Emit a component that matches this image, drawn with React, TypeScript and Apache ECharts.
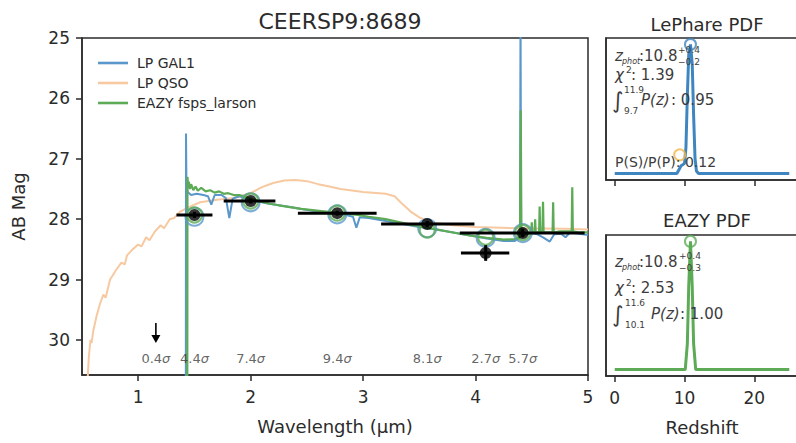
import React, { useEffect, useRef } from 'react';
import * as echarts from 'echarts';

const FONT = '"DejaVu Sans", "Liberation Sans", sans-serif';
const INK = '#2b2b2b';
const STAT_INK = '#3c3c3c';
const BLUE = '#5a97cb';
const ORANGE = '#f7c9a0';
const GREEN = '#5dab57';

const xTicks = [1, 2, 3, 4, 5];
const yTicks = [25, 26, 27, 28, 29, 30];
const zTicks = [0, 10, 20];

// LePhare galaxy template (wavelength um, AB mag)
const gal1Spectrum: number[][] = [
  [1.40, 31.5], [1.423, 31.5], [1.425, 26.58], [1.429, 27.45], [1.44, 27.55], [1.47, 27.6], [1.52, 27.58],
  [1.58, 27.6], [1.62, 27.62], [1.65, 27.76], [1.68, 27.6], [1.74, 27.6], [1.78, 27.65], [1.81, 27.98],
  [1.84, 27.66], [1.9, 27.62], [1.96, 27.66], [2.05, 27.7], [2.15, 27.74], [2.25, 27.77], [2.35, 27.8],
  [2.45, 27.83], [2.55, 27.86], [2.65, 27.88], [2.75, 27.9], [2.85, 27.93], [2.91, 27.96], [2.94, 28.14],
  [2.97, 27.97], [3.05, 27.98], [3.2, 28.03], [3.35, 28.08], [3.5, 28.13], [3.65, 28.17], [3.8, 28.22],
  [3.95, 28.27], [4.1, 28.32], [4.25, 28.36], [4.35, 28.36], [4.395, 28.3], [4.4, 24.5], [4.405, 28.25],
  [4.48, 28.23], [4.55, 28.25], [4.6, 28.3], [4.66, 28.37], [4.7, 28.25], [4.76, 28.24], [4.8, 28.3],
  [4.84, 28.22], [4.92, 28.24], [5.0, 28.26],
];

// LePhare QSO template
const qsoSpectrum: number[][] = [
  [0.54, 31], [0.56, 30.3], [0.575, 30.0], [0.585, 30.05], [0.6, 29.85], [0.63, 29.6], [0.66, 29.4],
  [0.69, 29.25], [0.71, 29.3], [0.75, 29.0], [0.8, 28.85], [0.85, 28.72], [0.88, 28.75], [0.9, 28.6],
  [0.95, 28.5], [1.0, 28.42], [1.03, 28.45], [1.07, 28.3], [1.1, 28.35], [1.15, 28.2], [1.2, 28.1],
  [1.23, 28.15], [1.28, 28.0], [1.32, 27.98], [1.37, 27.88], [1.45, 27.8], [1.55, 27.72], [1.7, 27.68],
  [1.85, 27.65], [2.0, 27.57], [2.1, 27.47], [2.2, 27.4], [2.3, 27.36], [2.4, 27.35], [2.5, 27.37],
  [2.6, 27.42], [2.7, 27.46], [2.8, 27.5], [3.0, 27.55], [3.2, 27.58], [3.28, 27.62], [3.35, 27.75],
  [3.42, 27.87], [3.5, 27.97], [3.6, 28.05], [3.8, 28.1], [4.0, 28.13], [4.4, 28.15], [4.8, 28.16], [5.0, 28.17],
];

// EAZY fsps_larson template
const eazySpectrum: number[][] = [
  [1.40, 31.5], [1.436, 31.5], [1.438, 27.3], [1.443, 27.45], [1.45, 27.38], [1.46, 27.5], [1.47, 27.42],
  [1.49, 27.52], [1.51, 27.46], [1.53, 27.53], [1.56, 27.48], [1.6, 27.54], [1.64, 27.52], [1.68, 27.56],
  [1.72, 27.54], [1.76, 27.58], [1.8, 27.57], [1.85, 27.6], [1.9, 27.6], [1.95, 27.63], [2.0, 27.66],
  [2.08, 27.7], [2.16, 27.74], [2.25, 27.77], [2.35, 27.8], [2.45, 27.83], [2.55, 27.85], [2.65, 27.87],
  [2.75, 27.89], [2.85, 27.91], [2.95, 27.93], [3.05, 27.96], [3.2, 28.0], [3.35, 28.06], [3.5, 28.12],
  [3.65, 28.17], [3.8, 28.22], [3.95, 28.27], [4.1, 28.31], [4.25, 28.34], [4.35, 28.33], [4.395, 28.3],
  [4.402, 26.2], [4.408, 28.28], [4.45, 28.25], [4.495, 28.22], [4.5, 28.05], [4.505, 28.22], [4.525, 28.22],
  [4.53, 28.0], [4.535, 28.22], [4.565, 28.22], [4.57, 27.79], [4.575, 28.22], [4.595, 28.22], [4.6, 27.71],
  [4.605, 28.22], [4.685, 28.22], [4.69, 27.72], [4.695, 28.22], [4.75, 28.2], [4.855, 28.2], [4.86, 27.47],
  [4.865, 28.2], [4.93, 28.22], [5.0, 28.22],
];

// photometry
const filterWave = [1.50, 2.00, 2.77, 3.57, 4.09, 4.42];
const filterLo = [1.34, 1.76, 2.42, 3.16, 3.87, 3.86];
const filterHi = [1.66, 2.22, 3.12, 3.99, 4.30, 4.97];
const obsMag = [27.93, 27.70, 27.90, 28.08, 28.56, 28.23];
const obsMagErr = [0.05, 0.04, 0.04, 0.05, 0.13, 0.07];
const gal1ModelMag = [27.96, 27.72, 27.92, 28.15, 28.31, 28.23];
const eazyModelMag = [27.93, 27.70, 27.90, 28.18, 28.30, 28.22];
const upperLimitWave = [1.157];
const upperLimitMag = [29.72];
const upperLimitTip = [30.05];
const snrWave = [1.157, 1.50, 2.00, 2.77, 3.57, 4.09, 4.42];
const snrLabels = ['0.4', '4.4', '7.4', '9.4', '8.1', '2.7', '5.7'];

// redshift PDFs (peak-normalised)
const lpZ = [0, 8.9, 9.2, 9.5, 9.8, 10.0, 10.2, 10.4, 10.6, 10.85, 11.1, 11.3, 11.5, 11.7, 12.0, 25];
const lpP = [0, 0, 0.03, 0.06, 0.07, 0.08, 0.2, 0.6, 0.92, 1.0, 0.85, 0.45, 0.12, 0.02, 0, 0];
const lpBest = [10.85, 1.0];
const lpQsoMark = [9.3, 0.145];
const eazyZ = [0, 10.1, 10.4, 10.6, 10.85, 11.1, 11.3, 11.6, 25];
const eazyP = [0, 0, 0.2, 0.65, 1.0, 0.65, 0.2, 0, 0];
const eazyBest = [10.85, 1.0];

// fit statistics
const lpStats = ['10.8', '+0.4', '\u22120.2', '1.39', '11.9', '9.7', '0.95', '0.12'];
const ezStats = ['10.8', '+0.4', '\u22120.3', '2.53', '11.6', '10.1', '1.00'];

const SNR_Y = 30.31;

function txt(x: number, y: number, text: string, size: number, italic = false) {
  return {
    type: 'text', x, y, silent: true, z: 100,
    style: {
      text, fontSize: size, fontFamily: FONT, fontStyle: italic ? 'italic' : 'normal', fill: STAT_INK,
      align: 'left', verticalAlign: 'middle', textAlign: 'left', textVerticalAlign: 'middle',
    },
  };
}

function axisCommon(extra: any) {
  return {
    splitLine: { show: false },
    axisLine: { show: true, onZero: false, lineStyle: { color: INK, width: 1.5 } },
    axisTick: { show: true, length: 6, lineStyle: { color: INK, width: 1.5 } },
    axisLabel: { color: INK, fontSize: 17, fontFamily: FONT },
    nameTextStyle: { color: INK, fontSize: 18, fontFamily: FONT },
    ...extra,
  };
}

export default function App() {
  const ref = useRef<HTMLDivElement>(null);
  useEffect(() => {
    if (!ref.current) return;
    const chart = echarts.init(ref.current, undefined, { renderer: 'svg' });
    const gridBase = { show: true, borderColor: INK, borderWidth: 1.5, backgroundColor: 'transparent', outerBoundsMode: 'none', containLabel: false };
    const option: any = {
      animation: false,
      backgroundColor: '#ffffff',
      title: [
        { text: 'CEERSP9:8689', left: 335, top: 5, textAlign: 'center', textStyle: { fontSize: 22, fontWeight: 'normal', fontFamily: FONT, color: INK } },
        { text: 'LePhare PDF', left: 702, top: 10, textAlign: 'center', textStyle: { fontSize: 18, fontWeight: 'normal', fontFamily: FONT, color: INK } },
        { text: 'EAZY PDF', left: 702, top: 206, textAlign: 'center', textStyle: { fontSize: 18, fontWeight: 'normal', fontFamily: FONT, color: INK } },
      ],
      legend: {
        data: [
          { name: 'LP GAL1', icon: 'rect' },
          { name: 'LP QSO', icon: 'rect' },
          { name: 'EAZY fsps_larson', icon: 'rect' },
        ],
        orient: 'vertical', left: 93, top: 50, itemGap: 4, itemWidth: 30, itemHeight: 2.6,
        textStyle: { fontSize: 14, fontFamily: FONT, color: INK, padding: [0, 0, 0, 4], lineHeight: 16 },
      },
      grid: [
        { ...gridBase, left: 82, top: 38, width: 506, height: 337 },
        { ...gridBase, left: 606, top: 38, width: 192, height: 142 },
        { ...gridBase, left: 606, top: 235, width: 192, height: 141 },
      ],
      xAxis: [
        axisCommon({ type: 'value', gridIndex: 0, min: 0.5, max: 5, name: 'Wavelength (\u00b5m)', nameLocation: 'middle', nameGap: 42,
          axisTick: { show: true, length: 6, customValues: xTicks, lineStyle: { color: INK, width: 1.5 } },
          axisLabel: { color: INK, fontSize: 17, fontFamily: FONT, margin: 13, customValues: xTicks } }),
        axisCommon({ type: 'value', gridIndex: 1, min: -1.25, max: 26.25,
          axisTick: { show: true, length: 6, customValues: zTicks, lineStyle: { color: INK, width: 1.5 } },
          axisLabel: { show: false } }),
        axisCommon({ type: 'value', gridIndex: 2, min: -1.25, max: 26.25, name: 'Redshift', nameLocation: 'middle', nameGap: 42,
          axisTick: { show: true, length: 6, customValues: zTicks, lineStyle: { color: INK, width: 1.5 } },
          axisLabel: { color: INK, fontSize: 17, fontFamily: FONT, margin: 13, customValues: zTicks } }),
      ],
      yAxis: [
        axisCommon({ type: 'value', gridIndex: 0, min: 25, max: 30.58, inverse: true, name: 'AB Mag', nameLocation: 'middle', nameGap: 55, nameRotate: 90,
          axisTick: { show: true, length: 6, customValues: yTicks, lineStyle: { color: INK, width: 1.5 } },
          axisLabel: { color: INK, fontSize: 17, fontFamily: FONT, margin: 12, customValues: yTicks } }),
        axisCommon({ type: 'value', gridIndex: 1, min: -0.05, max: 1.05, axisTick: { show: false }, axisLabel: { show: false } }),
        axisCommon({ type: 'value', gridIndex: 2, min: -0.05, max: 1.05, axisTick: { show: false }, axisLabel: { show: false } }),
      ],
      series: [
        { type: 'line', name: 'LP GAL1', data: gal1Spectrum, symbol: 'none', showSymbol: false, clip: true, z: 3, silent: true,
          lineStyle: { color: BLUE, width: 2 }, itemStyle: { color: BLUE } },
        { type: 'line', name: 'LP QSO', data: qsoSpectrum, symbol: 'none', showSymbol: false, clip: true, z: 2, silent: true,
          lineStyle: { color: ORANGE, width: 2 }, itemStyle: { color: ORANGE } },
        { type: 'line', name: 'EAZY fsps_larson', data: eazySpectrum, symbol: 'none', showSymbol: false, clip: true, z: 4, silent: true,
          lineStyle: { color: GREEN, width: 2.2 }, itemStyle: { color: GREEN } },
        { type: 'scatter', name: 'gal1 model', data: filterWave.map((w, i) => [w, gal1ModelMag[i]]), symbol: 'circle', symbolSize: 18, z: 5, silent: true,
          itemStyle: { color: 'rgba(0,0,0,0)', borderColor: BLUE, borderWidth: 2 } },
        { type: 'scatter', name: 'eazy model', data: filterWave.map((w, i) => [w, eazyModelMag[i]]), symbol: 'circle', symbolSize: 15, z: 6, silent: true,
          itemStyle: { color: 'rgba(0,0,0,0)', borderColor: GREEN, borderWidth: 2.2 } },
        { type: 'custom', name: 'errors', z: 7, silent: true,
          data: filterWave.map((w, i) => [w, obsMag[i], filterLo[i], filterHi[i], obsMagErr[i]]),
          encode: { x: 0, y: 1 },
          renderItem: (params: any, api: any) => {
            const x = api.value(0), y = api.value(1), lo = api.value(2), hi = api.value(3), e = api.value(4);
            const a = api.coord([lo, y]), b = api.coord([hi, y]);
            const c = api.coord([x, y - e]), d = api.coord([x, y + e]);
            return { type: 'group', children: [
              { type: 'line', shape: { x1: a[0], y1: a[1], x2: b[0], y2: b[1] }, style: { stroke: '#000', lineWidth: 3 } },
              { type: 'line', shape: { x1: c[0], y1: c[1], x2: d[0], y2: d[1] }, style: { stroke: '#000', lineWidth: 3 } },
            ] };
          } },
        { type: 'scatter', name: 'observed', data: filterWave.map((w, i) => [w, obsMag[i]]), symbol: 'circle', symbolSize: 12, z: 8, silent: true,
          itemStyle: { color: '#000' } },
        { type: 'custom', name: 'upper limit', z: 8, silent: true,
          data: upperLimitWave.map((w, i) => [w, upperLimitMag[i], upperLimitTip[i]]),
          encode: { x: 0, y: 1 },
          renderItem: (params: any, api: any) => {
            const top = api.coord([api.value(0), api.value(1)]);
            const tip = api.coord([api.value(0), api.value(2)]);
            return { type: 'group', children: [
              { type: 'line', shape: { x1: top[0], y1: top[1], x2: tip[0], y2: tip[1] - 6 }, style: { stroke: '#000', lineWidth: 1.6 } },
              { type: 'polygon', shape: { points: [[tip[0] - 4.5, tip[1] - 8], [tip[0] + 4.5, tip[1] - 8], [tip[0], tip[1]]] }, style: { fill: '#000' } },
            ] };
          } },
        { type: 'scatter', name: 'snr', data: snrWave.map((w) => [w, SNR_Y]), symbolSize: 0, z: 9, silent: true,
          itemStyle: { color: 'rgba(0,0,0,0)' },
          label: { show: true, position: 'inside', formatter: (p: any) => `{n|${snrLabels[p.dataIndex]}}{s|\u03c3}`,
            rich: { n: { fontSize: 13, fontFamily: FONT, color: STAT_INK }, s: { fontSize: 13, fontFamily: FONT, fontStyle: 'italic', color: STAT_INK } } } },
        // LePhare PDF
        { type: 'line', name: 'lp pdf', xAxisIndex: 1, yAxisIndex: 1, data: lpZ.map((z, i) => [z, lpP[i]]), symbol: 'none', z: 3, silent: true,
          lineStyle: { color: '#3f86c0', width: 3 } },
        { type: 'scatter', name: 'lp best', xAxisIndex: 1, yAxisIndex: 1, data: [lpBest], symbol: 'circle', symbolSize: 11, z: 4, silent: true,
          itemStyle: { color: 'rgba(0,0,0,0)', borderColor: '#3f86c0', borderWidth: 2 } },
        { type: 'scatter', name: 'lp qso', xAxisIndex: 1, yAxisIndex: 1, data: [lpQsoMark], symbol: 'circle', symbolSize: 11, z: 4, silent: true,
          itemStyle: { color: 'rgba(0,0,0,0)', borderColor: '#f2b84a', borderWidth: 2 } },
        // EAZY PDF
        { type: 'line', name: 'ez pdf', xAxisIndex: 2, yAxisIndex: 2, data: eazyZ.map((z, i) => [z, eazyP[i]]), symbol: 'none', z: 3, silent: true,
          lineStyle: { color: GREEN, width: 3 } },
        { type: 'scatter', name: 'ez best', xAxisIndex: 2, yAxisIndex: 2, data: [eazyBest], symbol: 'circle', symbolSize: 11, z: 4, silent: true,
          itemStyle: { color: 'rgba(0,0,0,0)', borderColor: GREEN, borderWidth: 2 } },
      ],
      graphic: [
        // LePhare stats
        txt(615, 56, 'z', 15, true), txt(622, 61, 'phot', 8, true), txt(639, 56, ':' + lpStats[0], 15),
        txt(678, 50, lpStats[1], 9), txt(678, 62, lpStats[2], 9),
        txt(615, 75, '\u03c7', 15, true), txt(626, 70, '2', 9), txt(631, 75, ': ' + lpStats[3], 15),
        txt(612, 100, '\u222b', 22), txt(624, 90, lpStats[4], 9), txt(624, 111, lpStats[5], 9),
        txt(641, 100, 'P(z)', 15, true), txt(671, 100, ': ' + lpStats[6], 15),
        txt(615, 162, 'P(S)/P(P): ' + lpStats[7], 14),
        // EAZY stats
        txt(615, 262, 'z', 15, true), txt(622, 267, 'phot', 8, true), txt(639, 262, ':' + ezStats[0], 15),
        txt(679, 256, ezStats[1], 9), txt(679, 268, ezStats[2], 9),
        txt(615, 288, '\u03c7', 15, true), txt(626, 283, '2', 9), txt(631, 288, ': ' + ezStats[3], 15),
        txt(612, 314, '\u222b', 22), txt(625, 303, ezStats[4], 9), txt(625, 325, ezStats[5], 9),
        txt(651, 314, 'P(z)', 15, true), txt(680, 314, ': ' + ezStats[6], 15),
      ],
    };
    chart.setOption(option);
    return () => chart.dispose();
  }, []);
  return <div ref={ref} style={{ position: 'fixed', left: 0, top: 0, width: 796, height: 443 }} />;
}
